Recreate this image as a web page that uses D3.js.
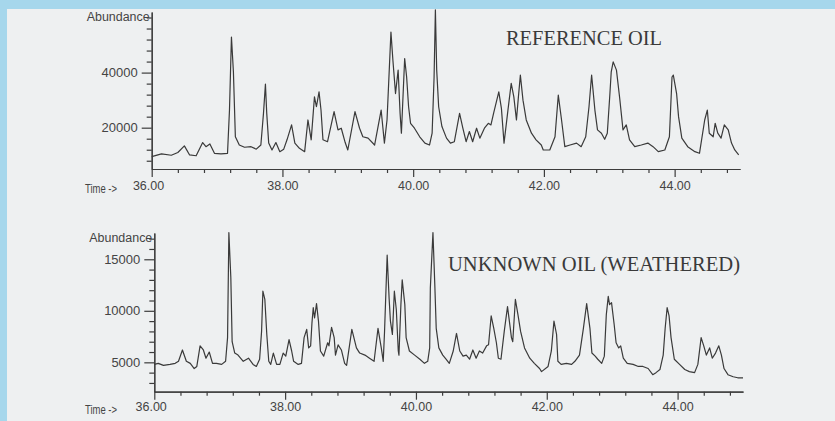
<!DOCTYPE html>
<html><head><meta charset="utf-8">
<script src="https://cdn.jsdelivr.net/npm/d3@7/dist/d3.min.js"></script>
<style>body{margin:0;background:#a6d7ec}svg{display:block}</style>
</head><body><svg id="c" width="835" height="421"></svg>
<script>
// ---------- DATA ----------
const topTitle = "REFERENCE OIL";
const botTitle = "UNKNOWN OIL (WEATHERED)";
const xMajorTicks = [36, 38, 40, 42, 44];
const topYMajorTicks = [20000, 40000];
const botYMajorTicks = [5000, 10000, 15000];

const topTime = [36.00,36.15,36.30,36.40,36.50,36.58,36.68,36.78,36.83,36.89,36.96,37.06,37.16,37.19,37.22,37.25,37.28,37.34,37.42,37.52,37.60,37.67,37.71,37.74,37.76,37.79,37.84,37.90,37.96,38.02,38.07,38.14,38.19,38.26,38.34,38.39,38.44,38.49,38.52,38.56,38.59,38.62,38.69,38.79,38.85,38.90,38.96,39.00,39.11,39.18,39.23,39.31,39.41,39.51,39.56,39.60,39.66,39.69,39.73,39.77,39.80,39.82,39.87,39.90,39.93,39.96,40.02,40.10,40.18,40.25,40.29,40.32,40.34,40.36,40.39,40.44,40.51,40.57,40.63,40.71,40.76,40.81,40.86,40.91,40.97,41.02,41.09,41.15,41.19,41.23,41.31,41.35,41.39,41.45,41.50,41.54,41.58,41.61,41.64,41.68,41.73,41.81,41.88,41.96,41.99,42.09,42.17,42.22,42.27,42.32,42.40,42.50,42.57,42.64,42.69,42.73,42.78,42.82,42.88,42.93,42.97,43.01,43.03,43.06,43.11,43.16,43.21,43.26,43.31,43.39,43.49,43.59,43.67,43.75,43.85,43.92,43.96,43.98,44.03,44.06,44.11,44.20,44.31,44.38,44.46,44.50,44.53,44.59,44.62,44.66,44.71,44.76,44.82,44.87,44.92,44.98];
const topAbund = [9500,10500,10000,11000,13400,10100,9800,14600,13100,14100,10700,10500,10700,26400,52900,40300,16700,13700,12900,13100,12200,13700,25200,35800,25200,14400,11900,14600,11300,12200,15600,21000,14400,12500,11300,22800,15600,31200,27600,33000,26400,15600,14900,25800,19200,19800,14600,11900,25800,19800,16700,16200,13700,26400,14400,22800,54700,44500,32400,40900,25200,18000,45100,38400,27600,21600,19800,16700,14400,13700,18000,38400,62800,40900,27600,20400,16200,14400,14900,25200,19800,14900,18600,14900,19800,16200,19800,21600,21000,25200,33000,27000,14400,26400,36100,31200,22800,31200,39100,30000,22800,18000,15600,13700,11900,11900,16700,31800,22800,13100,13700,14400,13100,16700,27600,39100,26400,19200,18000,15800,18000,32400,40300,43900,40900,30600,19200,21000,15600,13100,13700,14400,13100,11300,11900,16700,38400,39100,32400,24000,16200,13100,11300,10700,22800,26400,18000,16700,21600,18000,16200,21000,19200,14400,11900,10100];

const botTime = [36.00,36.06,36.14,36.24,36.32,36.37,36.43,36.49,36.55,36.61,36.65,36.70,36.75,36.79,36.84,36.89,36.95,37.03,37.09,37.12,37.14,37.17,37.19,37.23,37.28,37.36,37.44,37.51,37.56,37.61,37.64,37.66,37.69,37.72,37.75,37.78,37.82,37.87,37.92,37.97,38.01,38.06,38.10,38.13,38.20,38.25,38.29,38.33,38.36,38.39,38.41,38.43,38.45,38.48,38.51,38.54,38.59,38.65,38.67,38.71,38.75,38.77,38.81,38.86,38.91,38.94,39.02,39.09,39.14,39.22,39.29,39.36,39.42,39.47,39.50,39.52,39.56,39.59,39.61,39.64,39.67,39.70,39.73,39.74,39.77,39.79,39.83,39.85,39.90,39.98,40.06,40.13,40.18,40.21,40.22,40.26,40.29,40.31,40.35,40.41,40.46,40.51,40.57,40.62,40.67,40.72,40.77,40.82,40.87,40.92,40.97,41.02,41.08,41.11,41.15,41.19,41.23,41.26,41.30,41.35,41.40,41.46,41.48,41.52,41.56,41.60,41.66,41.74,41.81,41.89,41.92,42.02,42.07,42.11,42.15,42.17,42.22,42.30,42.38,42.43,42.50,42.56,42.61,42.66,42.69,42.74,42.78,42.84,42.88,42.91,42.94,42.96,42.99,43.03,43.06,43.10,43.13,43.17,43.23,43.32,43.40,43.47,43.55,43.62,43.67,43.73,43.78,43.81,43.84,43.87,43.90,43.95,44.03,44.11,44.18,44.26,44.31,44.36,44.40,44.44,44.49,44.53,44.58,44.63,44.67,44.71,44.77,44.85,44.92,45.00];
const botAbund = [4800,4900,4700,4800,4900,5100,6200,5100,4900,4400,4600,6600,6200,5400,6000,4900,4900,4800,5100,7400,17600,13200,7000,5900,5700,5100,5400,4800,4600,5300,8000,11900,11100,7700,5100,4800,5900,4800,4800,5900,5600,7200,6100,5100,4800,4900,7400,8200,6400,6600,8800,10300,9300,10700,9000,6100,5600,6900,6600,8400,7400,5700,6700,6200,4900,4700,8200,6400,5900,5700,5400,5100,8300,6400,5100,8000,15400,11200,9000,7700,11900,10100,6100,5700,10600,13000,10600,7400,6100,5700,5300,4900,5100,6400,12200,17600,12200,8300,6400,5700,5300,4900,6100,7800,6100,5600,5700,5300,6200,5400,6100,5900,6600,6700,9500,8300,6900,5400,5300,8000,10400,7400,7000,11100,9600,8000,6400,5400,4900,4400,4100,4600,6100,9000,7700,5100,4800,4900,4800,5100,5700,8300,10700,8300,5900,5600,5300,4900,5600,9600,11400,10600,10800,8700,6900,6400,6600,5400,4900,4800,4600,4600,4400,3800,4000,4300,5700,8300,10300,9500,7400,5300,4800,4300,4100,4000,4800,7400,6600,5700,6400,5400,5900,6600,5700,4400,3800,3600,3500,3500];

// ---------- DRAW ----------
const svg = d3.select("#c");
svg.append("rect").attr("width",835).attr("height",421).attr("fill","#a6d7ec");
svg.append("rect").attr("x",7).attr("y",9).attr("width",828).attr("height",412).attr("fill","#eef0f1");

const ink = "#3c3c3c";
const fontSans = "'Liberation Sans', Arial, sans-serif";
const fontSerif = "'Liberation Serif', 'Times New Roman', serif";

function panel(cfg){
  const g = svg.append("g");
  const x = d3.scaleLinear().domain([36,45]).range([cfg.x0, cfg.x1]);
  const y = d3.scaleLinear().domain(cfg.yDom).range([cfg.yBase, cfg.yTop]);

  const xMinor = d3.range(36, 45.01, 0.4).filter(v => !xMajorTicks.some(m => Math.abs(m-v)<1e-6));
  g.append("g").attr("transform",`translate(0,${cfg.yBase})`)
    .call(d3.axisBottom(x).tickValues(xMinor).tickSize(4).tickSizeOuter(0).tickFormat(""))
    .call(a=>a.selectAll("path,line").attr("stroke",ink).attr("stroke-width",1.2));
  const gx = g.append("g").attr("transform",`translate(0,${cfg.yBase})`)
    .call(d3.axisBottom(x).tickValues(xMajorTicks).tickSize(8).tickSizeOuter(0).tickPadding(cfg.xPad).tickFormat(d3.format(".2f")));
  gx.selectAll("path,line").attr("stroke",ink).attr("stroke-width",1.2);
  gx.selectAll("text").attr("font-family",fontSans).attr("font-size",12.5).attr("fill","#444");
  gx.selectAll(".tick text").filter(d=>d===36).attr("text-anchor","end").attr("dx",12);

  const yMinor = d3.range(cfg.minorStart, cfg.yDom[1], cfg.minorStep).filter(v=>!cfg.yMajor.includes(v));
  g.append("g").attr("transform",`translate(${cfg.x0},0)`)
    .call(d3.axisLeft(y).tickValues(yMinor).tickSize(5).tickSizeOuter(0).tickFormat(""))
    .call(a=>a.selectAll("path,line").attr("stroke",ink).attr("stroke-width",1.2));
  const gy = g.append("g").attr("transform",`translate(${cfg.x0},0)`)
    .call(d3.axisLeft(y).tickValues(cfg.yMajor).tickSize(10).tickSizeOuter(0).tickPadding(4).tickFormat(d3.format("d")));
  gy.selectAll("path,line").attr("stroke",ink).attr("stroke-width",1.2);
  gy.selectAll("text").attr("font-family",fontSans).attr("font-size",13).attr("fill","#444");

  g.append("text").attr("x",cfg.x0-2).attr("y",cfg.yTop+9).attr("text-anchor","end")
    .attr("font-family",fontSans).attr("font-size",12.5).attr("fill","#444")
    .attr("textLength",63).attr("lengthAdjust","spacingAndGlyphs").text("Abundance");
  g.append("text").attr("x",85).attr("y",cfg.yBase+cfg.xPad+20).attr("font-family",fontSans)
    .attr("font-size",12).attr("fill","#444").attr("textLength",32).attr("lengthAdjust","spacingAndGlyphs").text("Time ->");

  const pts = cfg.t.map((t,i)=>[t,cfg.a[i]]);
  g.append("path").datum(pts)
    .attr("d", d3.line().x(d=>x(d[0])).y(d=>y(d[1])))
    .attr("fill","none").attr("stroke","#3a3a3a").attr("stroke-width",1.2).attr("stroke-linejoin","round");

  g.append("text").attr("x",cfg.titleX).attr("y",cfg.titleY)
    .attr("font-family",fontSerif).attr("font-size",20).attr("fill","#3a3a3a")
    .attr("textLength",cfg.titleW).attr("lengthAdjust","spacingAndGlyphs").text(cfg.title);
}

panel({x0:151.7,x1:740,yBase:169,yTop:12,yDom:[5000,62000],yMajor:topYMajorTicks,minorStart:8000,minorStep:4000,
  t:topTime,a:topAbund,xPad:4,title:topTitle,titleX:506,titleY:45,titleW:156});
panel({x0:154.3,x1:743,yBase:391.7,yTop:233,yDom:[2150,17550],yMajor:botYMajorTicks,minorStart:3000,minorStep:1000,
  t:botTime,a:botAbund,xPad:2,title:botTitle,titleX:448,titleY:271,titleW:292});
</script></body></html>
